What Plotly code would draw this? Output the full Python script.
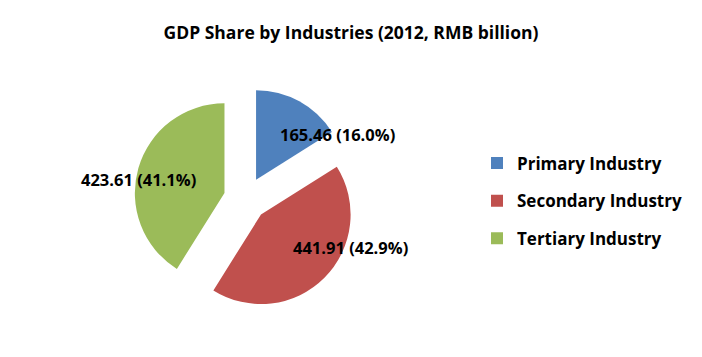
import plotly.graph_objects as go

categories = ["Primary Industry", "Secondary Industry", "Tertiary Industry"]
values = [165.46, 441.91, 423.61]
shares = ["16.0%", "42.9%", "41.1%"]
colors = ["#4F81BD", "#C0504D", "#9BBB59"]

# page body has an 8px margin; size the figure so it fits the window
OFF = 8
W, H = 702 - OFF, 357 - OFF
FONT = "Open Sans"

def px(x):
    return (x - OFF) / W

def py(y):
    return 1 - (y - OFF) / H

fig = go.Figure()
fig.add_trace(go.Pie(
    labels=categories,
    values=values,
    sort=False,
    direction="clockwise",
    rotation=0,
    pull=[0.244, 0.244, 0.244],
    marker=dict(colors=colors, line=dict(width=0)),
    textinfo="none",
    hoverinfo="label+value+percent",
    showlegend=False,
    domain=dict(x=[px(134), px(357)], y=[py(311), py(87)]),
))

# legend entries
for i, c in enumerate(categories):
    fig.add_trace(go.Scatter(
        x=[None], y=[None], mode="markers", name=c,
        marker=dict(symbol="square", size=12, color=colors[i]),
        legendgroup=c, showlegend=True,
    ))

# data labels
label_pos = [(337, 135), (350, 248), (138, 179)]
for i, (lx, ly) in enumerate(label_pos):
    fig.add_annotation(
        x=px(lx), y=py(ly), xref="paper", yref="paper",
        text=f"{values[i]:.2f} ({shares[i]})", showarrow=False,
        font=dict(family=FONT, size=16.5, color="black", weight="bold"),
        xanchor="center", yanchor="middle",
    )

fig.update_layout(
    width=W, height=H,
    margin=dict(l=0, r=0, t=0, b=0),
    paper_bgcolor="white", plot_bgcolor="white",
    title=dict(
        text="GDP Share by Industries (2012, RMB billion)",
        x=px(351), xanchor="center", y=py(33), yanchor="middle",
        font=dict(family=FONT, size=17.5, color="black", weight="bold"),
    ),
    xaxis=dict(visible=False), yaxis=dict(visible=False),
    legend=dict(
        x=px(477), xanchor="left", y=py(201), yanchor="middle",
        font=dict(family=FONT, size=17, color="black", weight="bold"),
        tracegroupgap=12.5, itemwidth=30,
        bgcolor="rgba(0,0,0,0)",
    ),
)

fig.write_html("out.html")
